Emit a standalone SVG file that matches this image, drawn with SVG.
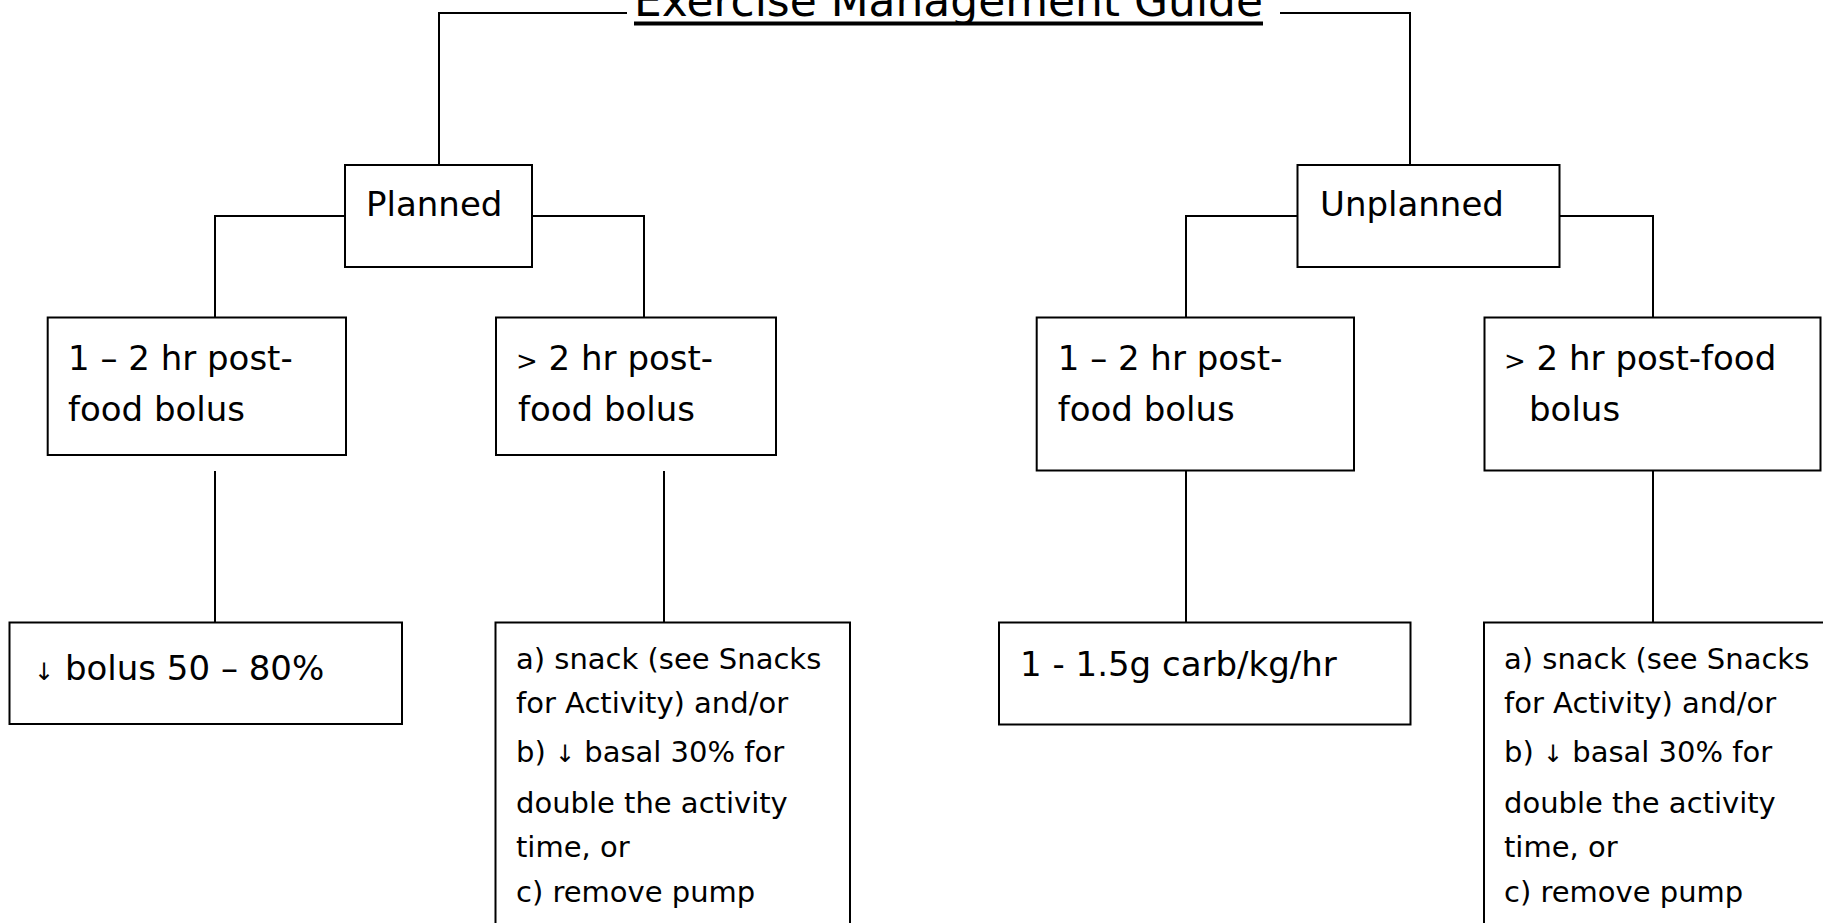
<svg xmlns="http://www.w3.org/2000/svg" width="1823" height="923" viewBox="0 0 1823 923">
<style>
.box{fill:#fff;stroke:#000;stroke-width:2}
.conn{fill:none;stroke:#000;stroke-width:2}
.t{font-family:"DejaVu Sans","Liberation Sans",sans-serif;fill:#000;font-size:34px}
.s{font-size:29px}
.arr{font-size:24px}
.title{font-size:44px}
</style>
<rect width="1823" height="923" fill="#fff"/>
<g id="connectors">
<polyline class="conn" points="627,13 439,13 439,165"/>
<polyline class="conn" points="1280,13 1410,13 1410,165"/>
<polyline class="conn" points="345,216 215,216 215,317"/>
<polyline class="conn" points="532,216 644,216 644,317"/>
<polyline class="conn" points="1297,216 1186,216 1186,317"/>
<polyline class="conn" points="1560,216 1653,216 1653,317"/>
<line class="conn" x1="215" y1="471" x2="215" y2="622"/>
<line class="conn" x1="664" y1="471" x2="664" y2="622"/>
<line class="conn" x1="1186" y1="471" x2="1186" y2="622"/>
<line class="conn" x1="1653" y1="471" x2="1653" y2="622"/>
</g>
<g id="title">
<line x1="634" y1="23.5" x2="1263" y2="23.5" stroke="#000" stroke-width="4"/>
<text class="t title" x="948.5" y="16" text-anchor="middle" textLength="629" lengthAdjust="spacingAndGlyphs">Exercise Management Guide</text>
</g>
<g id="planned">
<rect class="box" x="345" y="165" width="187" height="102"/>
<text class="t" x="366" y="216">Planned</text>
</g>
<g id="unplanned">
<rect class="box" x="1297.5" y="165" width="262" height="102"/>
<text class="t" x="1320" y="216">Unplanned</text>
</g>
<g id="planned-1-2hr">
<rect class="box" x="47.7" y="317.5" width="298.3" height="137.5"/>
<text class="t" x="68" y="370">1 – 2 hr post-</text>
<text class="t" x="68" y="421">food bolus</text>
</g>
<g id="planned-gt2hr">
<rect class="box" x="496" y="317.5" width="280" height="137.5"/>
<text class="t" x="516" y="370"><tspan font-size="26">&gt;</tspan> 2 hr post-</text>
<text class="t" x="518" y="421">food bolus</text>
</g>
<g id="unplanned-1-2hr">
<rect class="box" x="1036.7" y="317.5" width="317.3" height="153"/>
<text class="t" x="1057.7" y="370">1 – 2 hr post-</text>
<text class="t" x="1057.7" y="421">food bolus</text>
</g>
<g id="unplanned-gt2hr">
<rect class="box" x="1484.5" y="317.5" width="336" height="153"/>
<text class="t" x="1504" y="370"><tspan font-size="26">&gt;</tspan> 2 hr post-food</text>
<text class="t" x="1529" y="421">bolus</text>
</g>
<g id="planned-bolus">
<rect class="box" x="9.5" y="622.5" width="392.5" height="101.5"/>
<text class="t" x="34" y="680"><tspan class="arr">↓</tspan> bolus 50 – 80%</text>
</g>
<g id="planned-options">
<rect class="box" x="495.5" y="622.5" width="354.5" height="330"/>
<text class="t s" x="516" y="669">a) snack (see Snacks</text>
<text class="t s" x="516" y="713">for Activity) and/or</text>
<text class="t s" x="516" y="762">b) <tspan class="arr">↓</tspan> basal 30% for</text>
<text class="t s" x="516" y="813">double the activity</text>
<text class="t s" x="516" y="857">time, or</text>
<text class="t s" x="516" y="902">c) remove pump</text>
</g>
<g id="unplanned-carb">
<rect class="box" x="999" y="622.5" width="411.5" height="102"/>
<text class="t" x="1020" y="676">1 - 1.5g carb/kg/hr</text>
</g>
<g id="unplanned-options">
<rect class="box" x="1484" y="622.5" width="360" height="330"/>
<text class="t s" x="1504" y="669">a) snack (see Snacks</text>
<text class="t s" x="1504" y="713">for Activity) and/or</text>
<text class="t s" x="1504" y="762">b) <tspan class="arr">↓</tspan> basal 30% for</text>
<text class="t s" x="1504" y="813">double the activity</text>
<text class="t s" x="1504" y="857">time, or</text>
<text class="t s" x="1504" y="902">c) remove pump</text>
</g>
</svg>
